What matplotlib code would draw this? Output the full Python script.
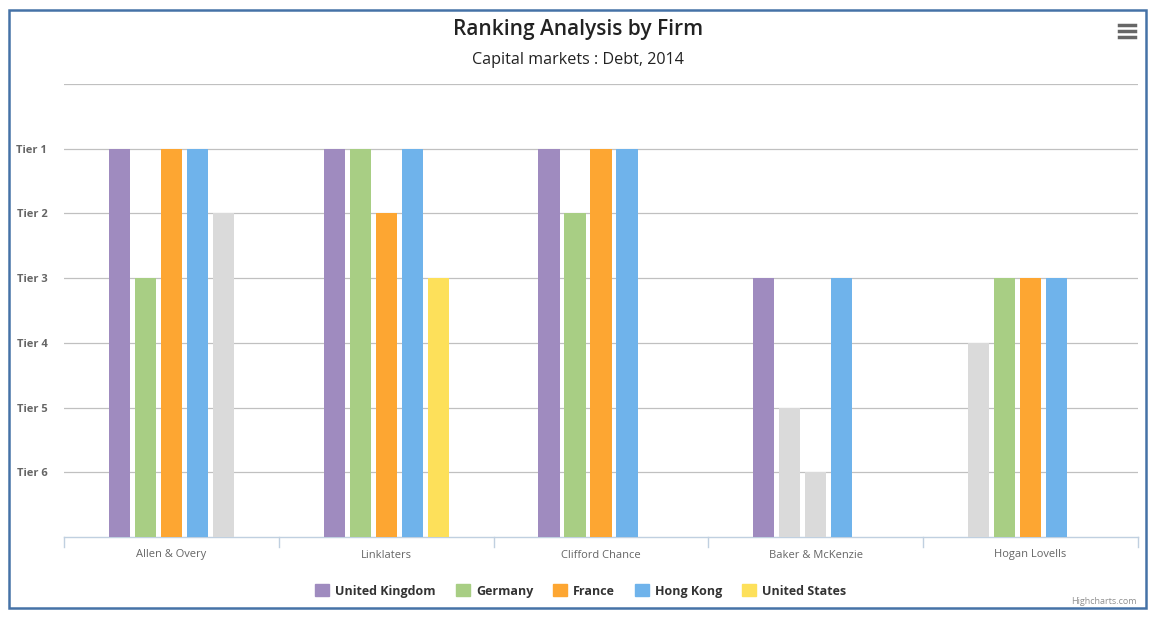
import matplotlib.pyplot as plt
from matplotlib.patches import Rectangle, Patch
from matplotlib.lines import Line2D

firms = ['Allen & Overy', 'Linklaters', 'Clifford Chance', 'Baker & McKenzie', 'Hogan Lovells']
series = ['United Kingdom', 'Germany', 'France', 'Hong Kong', 'United States']
colors = ['#9F8BBF', '#A8CE84', '#FDA632', '#6FB3EB', '#FDE05A']
grey = '#DADADA'

# tier per firm (None = not ranked)
uk = [1, 1, 1, 3, 4]
germany = [3, 1, 2, 5, 3]
france = [1, 2, 1, 6, 3]
hong_kong = [1, 1, 1, 3, 3]
united_states = [2, 3, None, None, None]
tiers = [uk, germany, france, hong_kong, united_states]

# points drawn in grey
uk_grey = [False, False, False, False, True]
germany_grey = [False, False, False, True, False]
france_grey = [False, False, False, True, False]
hong_kong_grey = [False] * 5
united_states_grey = [True, False, False, False, False]
greys = [uk_grey, germany_grey, france_grey, hong_kong_grey, united_states_grey]

tier_labels = ['Tier 6', 'Tier 5', 'Tier 4', 'Tier 3', 'Tier 2', 'Tier 1']

W, H = 1159, 621
fig = plt.figure(figsize=(W / 100, H / 100), dpi=100)
plt.rcParams['font.family'] = ['Open Sans', 'DejaVu Sans']

ax = fig.add_axes([64 / W, 1 - 537 / H, (1138 - 64) / W, (537 - 84) / H])

bw = 0.098
step = 0.121
for s, (vals, gmask, col) in enumerate(zip(tiers, greys, colors)):
    for i, v in enumerate(vals):
        if v is None:
            continue
        c = grey if gmask[i] else col
        ax.bar(i + (s - 2) * step, 7 - v, width=bw, color=c, zorder=3)

ax.set_xlim(-0.5, len(firms) - 0.5)
ax.set_ylim(0, 7)
ax.set_yticks(range(1, 7))
ax.set_yticklabels(tier_labels, fontsize=8, fontweight='bold', color='#666666')
for y in range(1, 8):
    ax.axhline(y, color='#C0C0C0', lw=0.9, zorder=1)
ax.tick_params(axis='y', length=0, pad=12)

ax.set_xticks(range(len(firms)))
ax.set_xticklabels(firms, fontsize=8, color='#666666')
ax.tick_params(axis='x', length=0, pad=9)
for b in [x - 0.5 for x in range(len(firms) + 1)]:
    ax.plot([b, b], [0, -0.15], color='#C0D0E0', lw=1, clip_on=False, zorder=2)

for side in ['top', 'right', 'left']:
    ax.spines[side].set_visible(False)
ax.spines['bottom'].set_color('#C0D0E0')
ax.spines['bottom'].set_linewidth(1)

fig.text(578 / W, 1 - 30 / H, 'Ranking Analysis by Firm', ha='center', va='center',
         fontsize=15, fontweight='semibold', color='#222222')
fig.text(578 / W, 1 - 60 / H, 'Capital markets : Debt, 2014', ha='center', va='center',
         fontsize=11.6, color='#222222')

handles = [Patch(color=c) for c in colors]
leg = fig.legend(handles, series, loc='center', bbox_to_anchor=(581 / W, 1 - 591 / H),
                 ncol=5, frameon=False, handlelength=1.1, handleheight=1.1,
                 handletextpad=0.5, columnspacing=1.6,
                 prop={'size': 9, 'weight': 'bold'})
for t in leg.get_texts():
    t.set_color('#333333')

fig.text(1137 / W, 1 - 602 / H, 'Highcharts.com', ha='right', va='center',
         fontsize=6.5, color='#909090')

# export menu icon
for yy in [25, 31, 37]:
    fig.add_artist(Line2D([1119 / W, 1135 / W], [1 - yy / H, 1 - yy / H],
                          color='#666666', lw=2.5))

fig.add_artist(Rectangle((9 / W, 1 - 608 / H), (1146 - 9) / W, (608 - 10) / H,
                         fill=False, edgecolor='#4572A7', lw=1.8))

fig.savefig('out.png', dpi=100)
